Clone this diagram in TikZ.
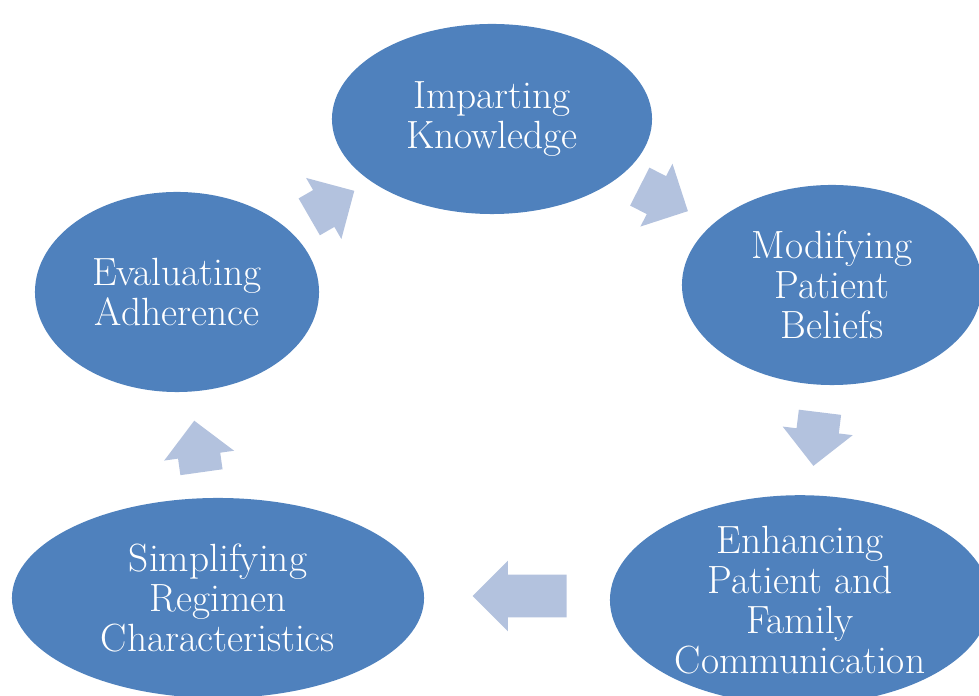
\documentclass[tikz,border=0pt]{standalone}
\usetikzlibrary{shapes.geometric}
\usetikzlibrary{shapes.arrows}

\definecolor{stageblue}{RGB}{79,129,189}
\definecolor{flowblue}{RGB}{179,194,222}

\begin{document}
\begin{tikzpicture}[x=0.025cm, y=0.025cm,
	stage/.style={ellipse, fill=stageblue, text=white, inner sep=0pt, align=center,
		font=\fontsize{28}{28.5}\selectfont},
	flow/.style={single arrow, fill=flowblue, inner xsep=0pt, inner ysep=0.525cm,
		single arrow head extend=0.35cm, minimum width=0pt, anchor=tail}]
		\useasboundingbox (0,0) rectangle (979,696);
		\clip (0,0) rectangle (979,696);
		\node (know) [stage, minimum width=8cm, minimum height=4.75cm] at (492,577) {Imparting\\Knowledge};
		\node (beliefs) [stage, minimum width=7.5cm, minimum height=5cm] at (832,411) {Modifying\\Patient\\Beliefs};
		\node (comm) [stage, minimum width=9.5cm, minimum height=5cm] at (800,96) {Enhancing\\Patient and\\Family\\Communication};
		\node (simp) [stage, minimum width=10.3cm, minimum height=5cm] at (218,98) {Simplifying\\Regimen\\Characteristics};
		\node (eval) [stage, minimum width=7.1cm, minimum height=5cm] at (177,404) {Evaluating\\Adherence};
		\node (f1) [flow, rotate=30, minimum height=1.3cm] at (309,479) {};
		\node (f2) [flow, rotate=-27, minimum height=1.35cm] at (639.5,509.5) {};
		\node (f3) [flow, rotate=-97, minimum height=1.35cm] at (820,284) {};
		\node (f4) [flow, rotate=180, minimum height=2.35cm] at (567,100) {};
		\node (f5) [flow, rotate=98, minimum height=1.3cm] at (201.5,223.5) {};
		\end{tikzpicture}
\end{document}
